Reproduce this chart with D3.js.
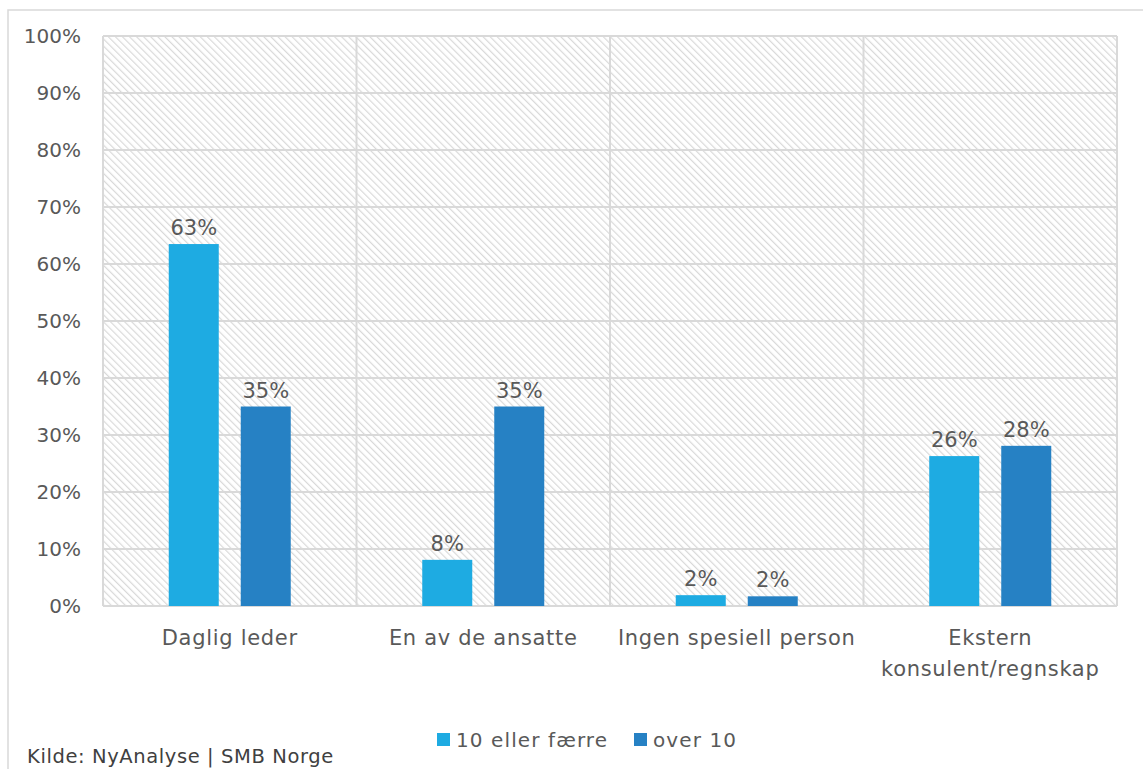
<!DOCTYPE html>
<html><head><meta charset="utf-8">
<script src="https://cdn.jsdelivr.net/npm/d3@7"></script>
<style>
body{margin:0;background:#fff;}
text{font-family:"Century Gothic","DejaVu Sans",sans-serif;fill:#595959;}
</style></head><body>
<svg id="c" width="1143" height="769"></svg>
<script>
const categories = [["Daglig leder"],["En av de ansatte"],["Ingen spesiell person"],["Ekstern","konsulent/regnskap"]];
const seriesNames = ["10 eller færre","over 10"];
const seriesA = [63.5, 8.1, 1.9, 26.3];
const seriesB = [35.0, 35.0, 1.7, 28.1];
const labelsA = ["63%","8%","2%","26%"];
const labelsB = ["35%","35%","2%","28%"];
const yTicks = [0,10,20,30,40,50,60,70,80,90,100];
const colors = ["#1eabe2","#2681c4"];
const source = "Kilde: NyAnalyse | SMB Norge";

const svg = d3.select("#c");
const L=103, R=1117, T=36, B=606;
const defs = svg.append("defs");
const pat = defs.append("pattern").attr("id","hatch").attr("patternUnits","userSpaceOnUse")
  .attr("width",5).attr("height",5).attr("patternTransform","rotate(-45)");
pat.append("rect").attr("width",5).attr("height",5).attr("fill","#fff");
pat.append("line").attr("x1",0).attr("y1",0).attr("x2",0).attr("y2",5).attr("stroke","#d9d9d9").attr("stroke-width",2.4);

// outer border
svg.append("rect").attr("x",8).attr("y",10).attr("width",1150).attr("height",800)
  .attr("fill","none").attr("stroke","#d9d9d9").attr("stroke-width",1.5);

const x0 = d3.scaleBand().domain(d3.range(categories.length)).range([L,R]);
const y = d3.scaleLinear().domain([0,100]).range([B,T]);

svg.append("rect").attr("x",L).attr("y",T).attr("width",R-L).attr("height",B-T).attr("fill","url(#hatch)");

const g = svg.append("g");
g.selectAll("line.h").data(yTicks).join("line").attr("class","h")
  .attr("x1",L).attr("x2",R).attr("y1",d=>y(d)).attr("y2",d=>y(d))
  .attr("stroke","#d9d9d9").attr("stroke-width",2);
const vb = d3.range(categories.length+1).map(i=> i<categories.length? x0(i) : R);
g.selectAll("line.v").data(vb).join("line").attr("class","v")
  .attr("x1",d=>d).attr("x2",d=>d).attr("y1",T).attr("y2",B)
  .attr("stroke","#d9d9d9").attr("stroke-width",2);

// y tick labels
svg.selectAll("text.yt").data(yTicks).join("text").attr("class","yt")
  .attr("x",81).attr("y",d=>y(d)).attr("dy","0.36em").attr("text-anchor","end")
  .attr("font-size",20).text(d=>d+"%");

const bw = 50, gap = 22;
const series = [seriesA, seriesB];
const labels = [labelsA, labelsB];
series.forEach((s,si)=>{
  const off = si===0 ? -(gap/2+bw) : gap/2;
  svg.selectAll("rect.b"+si).data(s).join("rect").attr("class","b"+si)
    .attr("x",(d,i)=>x0(i)+x0.bandwidth()/2+off).attr("width",bw)
    .attr("y",d=>y(d)).attr("height",d=>B-y(d)).attr("fill",colors[si]);
  svg.selectAll("text.l"+si).data(s).join("text").attr("class","l"+si)
    .attr("x",(d,i)=>x0(i)+x0.bandwidth()/2+off+bw/2).attr("y",d=>y(d)-9)
    .attr("text-anchor","middle").attr("font-size",21).text((d,i)=>labels[si][i]);
});

// category labels
categories.forEach((c,i)=>{
  const cx = x0(i)+x0.bandwidth()/2;
  const t = svg.append("text").attr("y",645)
    .attr("text-anchor","middle").attr("font-size",21).style("letter-spacing","0.7px");
  c.forEach((line,j)=>t.append("tspan").attr("x",cx).attr("dy",j?31:0).text(line));
});

// legend
const leg = [{x:437,tx:456},{x:634,tx:653}];
seriesNames.forEach((n,i)=>{
  svg.append("rect").attr("x",leg[i].x).attr("y",733).attr("width",13).attr("height",13).attr("fill",colors[i]);
  svg.append("text").attr("x",leg[i].tx).attr("y",747).attr("font-size",20).style("letter-spacing","1.1px").text(n);
});
svg.append("text").attr("x",27).attr("y",763).attr("font-size",19.5).style("letter-spacing","0.6px").style("fill","#404040").text(source);
</script></body></html>
